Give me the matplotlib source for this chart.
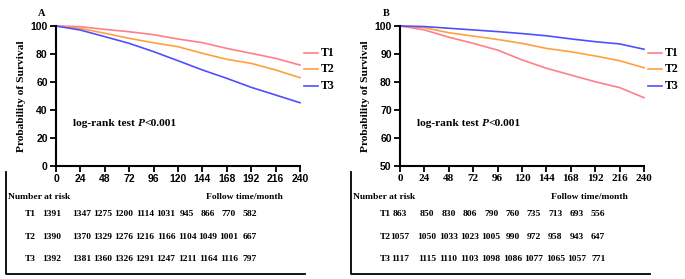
import matplotlib
matplotlib.use("Agg")
import matplotlib.pyplot as plt

# survival curves (percent), every 24 months
months = [0, 24, 48, 72, 96, 120, 144, 168, 192, 216, 240]

a_t1 = [100, 99.5, 97.6, 95.9, 93.8, 90.7, 88.1, 84.0, 80.5, 76.9, 72.1]
a_t2 = [100, 98.3, 94.8, 91.2, 88.0, 85.2, 80.5, 76.2, 73.3, 68.6, 63.1]
a_t3 = [100, 97.1, 92.4, 87.6, 81.7, 75.2, 68.6, 62.6, 56.2, 50.7, 45.2]

b_t1 = [100, 98.6, 96.0, 93.8, 91.4, 87.9, 84.9, 82.5, 80.1, 78.0, 74.4]
b_t2 = [100, 99.4, 97.6, 96.4, 95.2, 93.8, 92.0, 90.8, 89.3, 87.6, 85.1]
b_t3 = [100, 99.8, 99.2, 98.6, 98.0, 97.3, 96.5, 95.4, 94.4, 93.6, 91.7]

groups = ['T1', 'T2', 'T3']

# number at risk tables
a_risk = [
    [1391, 1347, 1275, 1200, 1114, 1031, 945, 866, 770, 582],
    [1390, 1370, 1329, 1276, 1216, 1166, 1104, 1049, 1001, 667],
    [1392, 1381, 1360, 1326, 1291, 1247, 1211, 1164, 1116, 797],
]
b_risk = [
    [863, 850, 830, 806, 790, 760, 735, 713, 693, 556],
    [1057, 1050, 1033, 1023, 1005, 990, 972, 958, 943, 647],
    [1117, 1115, 1110, 1103, 1098, 1086, 1077, 1065, 1057, 771],
]

colors = ['#ff7f89', '#ffa040', '#4f4fff']
SERIF = 'Liberation Serif'
SANS = 'Liberation Sans'

W, H = 685, 279
fig = plt.figure(figsize=(W / 100, H / 100), dpi=100)

# overlay in pixel coords for the table / legend / panel letters
ov = fig.add_axes([0, 0, 1, 1])
ov.set_xlim(0, W)
ov.set_ylim(H, 0)
ov.axis('off')


def panel(x0, x1, curves, ylim, yticks, letter, xtick_font):
    ax = fig.add_axes([x0 / W, 1 - 166 / H, (x1 - x0) / W, 140 / H])
    for y, c in zip(curves, colors):
        ax.plot(months, y, color=c, lw=1.2, clip_on=False)
    ax.set_xlim(0, 240)
    ax.set_ylim(*ylim)
    ax.set_xticks(range(0, 241, 24))
    ax.set_yticks(yticks)
    for s in ['top', 'right']:
        ax.spines[s].set_visible(False)
    for s in ['left', 'bottom']:
        ax.spines[s].set_linewidth(1.5)
    ax.tick_params(width=1.3, length=4, pad=2)
    for lab in ax.get_yticklabels():
        lab.set_fontfamily(SANS)
        lab.set_fontweight('bold')
        lab.set_fontsize(7.5)
    for lab in ax.get_xticklabels():
        lab.set_fontfamily(xtick_font)
        lab.set_fontweight('bold')
        lab.set_fontsize(7.5 if xtick_font == SANS else 8)
    ax.set_ylabel('Probability of Survival', fontfamily=SERIF,
                  fontweight='bold', fontsize=8.2, labelpad=3)

    # log-rank text, P in italic
    kw = dict(fontfamily=SERIF, fontweight='bold', fontsize=8.2, va='bottom')
    t1 = ax.text(0.07, 0.27, 'log-rank test ', transform=ax.transAxes, **kw)
    t2 = ax.annotate('P', xy=(1, 0), xycoords=t1, fontstyle='italic', **kw)
    ax.annotate('<0.001', xy=(1, 0), xycoords=t2, **kw)

    # panel letter
    ov.text(x0 - 14, 14, letter, fontfamily=SERIF, fontweight='bold',
            fontsize=7.5, ha='center', va='center')

    # legend
    for i, (g, c) in enumerate(zip(groups, colors)):
        ly = [53, 69, 86][i]
        ov.plot([x1 + 4, x1 + 18], [ly, ly], color=c, lw=1.2)
        ov.text(x1 + 21, ly, g, fontfamily=SERIF, fontweight='bold',
                fontsize=8.5, va='center')
    return ax


panel(56, 300, [a_t1, a_t2, a_t3], (0, 100), range(0, 101, 20), 'A', SANS)
panel(400, 644, [b_t1, b_t2, b_t3], (50, 100), range(50, 101, 10), 'B', SERIF)


def table(left, right, label_x, first_x, col_x, col_dx, risk, follow_x):
    ov.plot([left, left, right], [172, 274, 274], color='black', lw=1.3)
    kw = dict(fontfamily=SERIF, fontweight='bold', fontsize=6.8, va='center')
    ov.text(left + 2, 197, 'Number at risk', ha='left', **kw)
    ov.text(follow_x, 197, 'Follow time/month', ha='center', **kw)
    for r, (g, row) in enumerate(zip(groups, risk)):
        ry = [214, 237, 259][r]
        ov.text(label_x, ry, g, ha='center', **kw)
        for j, n in enumerate(row):
            x = first_x if j == 0 else col_x + col_dx * (j - 1)
            ov.text(x, ry, str(n), ha='center', **kw)


table(6, 305, 30, 52, 82, 21, a_risk, 244)
table(351, 650, 385, 400, 427, 21.4, b_risk, 589)

fig.savefig('out.png', dpi=100)
